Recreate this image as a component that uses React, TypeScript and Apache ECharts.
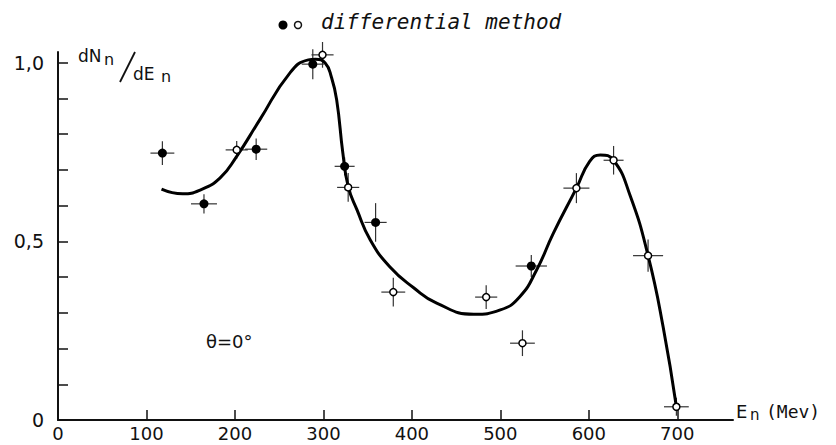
import React, { useEffect, useRef } from "react";
import * as echarts from "echarts";

// filled points: [E (MeV), dN/dE, xErr, yErr]
const filledPoints: number[][] = [
  [118, 0.747, 13.5, 0.033],
  [165, 0.605, 14.7, 0.027],
  [224, 0.758, 12.5, 0.03],
  [288, 0.996, 12.5, 0.042],
  [324, 0.71, 11.3, 0.025],
  [359, 0.553, 12.5, 0.054],
  [535, 0.431, 17.7, 0.031],
];
// open points
const openPoints: number[][] = [
  [202, 0.756, 12.5, 0.025],
  [299, 1.022, 12.5, 0.036],
  [328, 0.651, 12.5, 0.04],
  [379, 0.358, 13.5, 0.04],
  [484, 0.344, 12.5, 0.033],
  [525, 0.215, 14, 0.036],
  [586, 0.649, 14.7, 0.042],
  [628, 0.727, 11.3, 0.04],
  [667, 0.46, 17, 0.045],
  [699, 0.037, 14, 0.025],
];
// fitted curve
const curve: number[][] = [
  [117, 0.646], [141, 0.633], [160, 0.643], [183, 0.677], [202, 0.738],
  [228, 0.84], [262, 0.971], [283, 1.008], [291, 1.01],
  [302, 0.999], [309, 0.96], [315, 0.896], [322, 0.747],
  [328, 0.654], [338, 0.588], [353, 0.504], [375, 0.429],
  [402, 0.37], [428, 0.327], [470, 0.296], [500, 0.308], [522, 0.345],
  [541, 0.42], [560, 0.523], [586, 0.649], [601, 0.724], [613, 0.742],
  [628, 0.727], [647, 0.626], [667, 0.46], [684, 0.261], [699, 0.037],
];
const xTicks = [0, 100, 200, 300, 400, 500, 600, 700];
const yTicks = [0, 0.1, 0.2, 0.3, 0.4, 0.5, 0.6, 0.7, 0.8, 0.9, 1.0];
const yLabels = [0, 0.5, 1.0];

const errRender = (params: any, api: any) => {
  const x = api.value(0), y = api.value(1), xe = api.value(2), ye = api.value(3);
  const l = api.coord([x - xe, y]);
  const r = api.coord([x + xe, y]);
  const t = api.coord([x, y + ye]);
  const b = api.coord([x, y - ye]);
  const st = { stroke: "#333", lineWidth: 1.2 };
  return {
    type: "group",
    children: [
      { type: "line", shape: { x1: l[0], y1: l[1], x2: r[0], y2: r[1] }, style: st },
      { type: "line", shape: { x1: t[0], y1: t[1], x2: b[0], y2: b[1] }, style: st },
    ],
  };
};

export default function App() {
  const ref = useRef<HTMLDivElement>(null);
  useEffect(() => {
    const chart = echarts.init(ref.current!, null, { renderer: "svg" });
    const font = "DejaVu Sans";
    chart.setOption({
      animation: false,
      backgroundColor: "#fff",
      grid: { left: 58, right: 103, top: 52, bottom: 25 },
      xAxis: {
        type: "value",
        min: 0,
        max: 763,
        splitLine: { show: false },
        axisLine: { lineStyle: { color: "#111", width: 2 } },
        axisTick: { inside: true, length: 10, customValues: xTicks, lineStyle: { color: "#111", width: 1.5 } },
        axisLabel: {
          customValues: xTicks,
          color: "#111",
          fontFamily: font,
          fontSize: 18,
          margin: 4,
        },
      },
      yAxis: {
        type: "value",
        min: 0,
        max: 1.03,
        splitLine: { show: false },
        axisLine: { show: true, lineStyle: { color: "#111", width: 2 } },
        axisTick: { show: true, inside: true, length: 10, customValues: yTicks, lineStyle: { color: "#111", width: 1.5 } },
        axisLabel: {
          customValues: yLabels,
          color: "#111",
          fontFamily: font,
          fontSize: 19,
          margin: 14,
          formatter: (v: number) => (v === 0 ? "0" : v.toFixed(1).replace(".", ",")),
        },
      },
      graphic: [
        { type: "circle", shape: { cx: 283, cy: 25, r: 4.5 }, style: { fill: "#000" } },
        { type: "circle", shape: { cx: 298, cy: 25, r: 3.5 }, style: { fill: "#fff", stroke: "#111", lineWidth: 1.5 } },
        {
          type: "text", left: 321, top: 11,
          style: { text: "differential method", fill: "#111", font: "italic 21px 'DejaVu Sans Mono'" },
        },
        { type: "text", left: 78, top: 47, style: { text: "dN", fill: "#111", font: "17px 'DejaVu Sans'" } },
        { type: "text", left: 104, top: 51, style: { text: "n", fill: "#111", font: "16px 'DejaVu Sans'" } },
        { type: "line", shape: { x1: 120, y1: 82, x2: 135, y2: 52 }, style: { stroke: "#111", lineWidth: 1.8 } },
        { type: "text", left: 133, top: 65, style: { text: "dE", fill: "#111", font: "17px 'DejaVu Sans'" } },
        { type: "text", left: 161, top: 68, style: { text: "n", fill: "#111", font: "16px 'DejaVu Sans'" } },
        { type: "text", left: 206, top: 332, style: { text: "θ=0°", fill: "#111", font: "18px 'DejaVu Sans'" } },
        { type: "text", left: 736, top: 402, style: { text: "E", fill: "#111", font: "18px 'DejaVu Sans'" } },
        { type: "text", left: 750, top: 407, style: { text: "n", fill: "#111", font: "15px 'DejaVu Sans'" } },
        { type: "text", left: 766, top: 402, style: { text: "(Mev)", fill: "#111", font: "18px 'DejaVu Sans Mono'" } },
      ],
      series: [
        {
          type: "line",
          data: curve,
          smooth: 0.5,
          showSymbol: false,
          lineStyle: { color: "#000", width: 3 },
          z: 3,
        },
        {
          type: "custom",
          renderItem: errRender,
          data: filledPoints,
          encode: { x: 0, y: 1 },
          z: 2,
        },
        {
          type: "custom",
          renderItem: errRender,
          data: openPoints,
          encode: { x: 0, y: 1 },
          z: 2,
        },
        {
          type: "scatter",
          data: filledPoints.map((p) => [p[0], p[1]]),
          symbol: "circle",
          symbolSize: 9,
          itemStyle: { color: "#000", opacity: 1 },
          z: 4,
        },
        {
          type: "scatter",
          data: openPoints.map((p) => [p[0], p[1]]),
          symbol: "circle",
          symbolSize: 7,
          itemStyle: { color: "#fff", borderColor: "#000", borderWidth: 1.5, opacity: 1 },
          z: 5,
        },
      ],
    });
    return () => chart.dispose();
  }, []);
  return (
    <div
      ref={ref}
      style={{ position: "absolute", left: 0, top: 0, width: 836, height: 445, background: "#fff" }}
    />
  );
}
